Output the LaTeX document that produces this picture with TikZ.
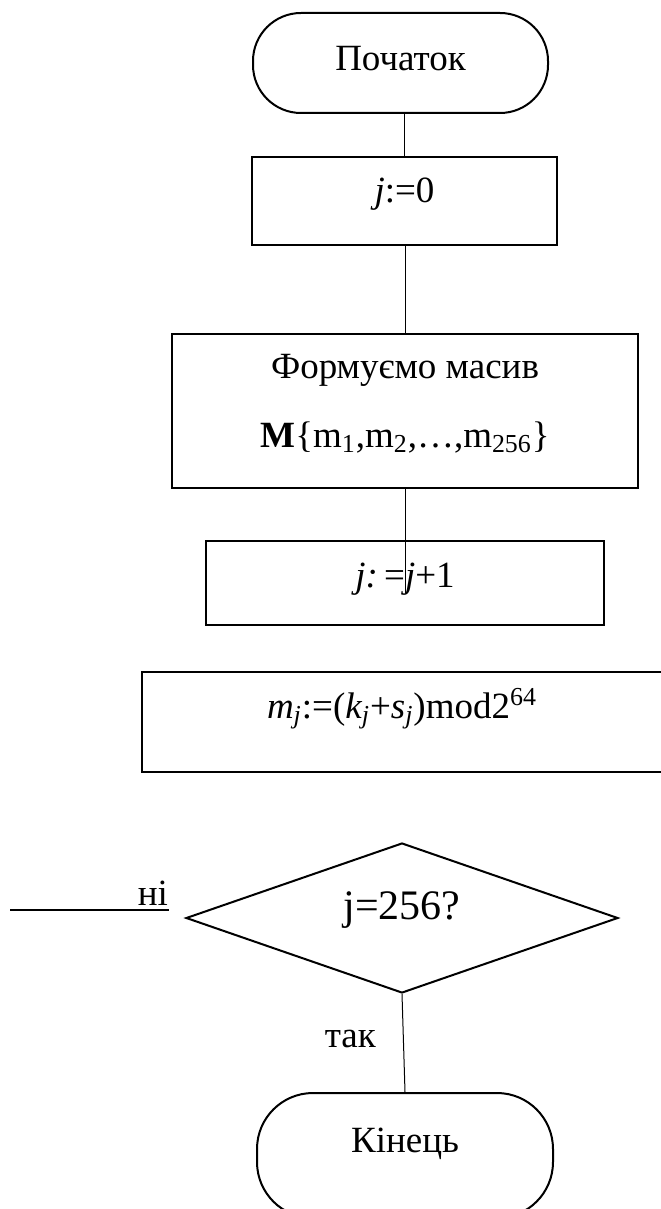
\documentclass[tikz,border=0pt]{standalone}
\usepackage{fontspec}
\setmainfont{Liberation Serif}
\usetikzlibrary{shapes.geometric}
\begin{document}
\begin{tikzpicture}[x=0.5pt,y=-0.5pt,
  every node/.style={font=\fontsize{18.5pt}{34.5pt}\selectfont},
  shape line/.style={draw, line width=1pt, inner sep=0pt},
  terminal/.style={shape line, rectangle, rounded corners=#1},
  procbox/.style={shape line, rectangle},
  decision/.style={shape line, diamond, font=\fontsize{21pt}{25pt}\selectfont},
  link/.style={line width=0.5pt},
  exit line/.style={line width=1.1pt},
  base drop/.style={text height=#1, text depth=0pt},
  base lift/.style={text height=0pt, text depth=#1},
  caption/.style={inner sep=0pt}]
\useasboundingbox (0,0) rectangle (660,1209);

% blocks of the algorithm
\node[terminal=24pt, minimum width=147.5pt, minimum height=50pt, base drop=8pt]
  (start) at (400.5,63) {Початок};
\node[procbox, minimum width=152.5pt, minimum height=44pt, base drop=2pt]
  (j0) at (404.5,201) {\textit{j}:=0};
\node[procbox, minimum width=233pt, minimum height=77pt, align=center, base drop=36pt]
  (form) at (405,411) {Формуємо масив\\\textbf{M}\{m\textsubscript{1},m\textsubscript{2},…,m\textsubscript{256}\}};
\node[procbox, minimum width=199pt, minimum height=42pt, base drop=4pt]
  (jj) at (405,583) {\textit{j:}\,=\textit{j}+1};
\node[procbox, minimum width=260pt, minimum height=50pt, base lift=4pt]
  (mj) at (402,722) {\textit{m\textsubscript{j}}:=(\textit{k\textsubscript{j}}+\textit{s\textsubscript{j}})mod2\textsuperscript{64}};
\node[decision, minimum width=216pt, minimum height=75pt, base drop=1pt]
  (dec) at (402,918) {j=256?};
\node[terminal=28pt, minimum width=148pt, minimum height=62.5pt, base lift=3.5pt]
  (end) at (405,1155.5) {Кінець};

% connectors
\draw[link] (j0.north |- start.south) -- (j0.north);
\draw[link] (form.north |- j0.south) -- (form.north);
\coordinate (jjin) at ([yshift=-5pt]jj.center);
\draw[link] (form.south) -- (jjin);

\coordinate (nofar) at (10,910);
\coordinate (nonear) at ([xshift=-8pt,yshift=4pt]dec.west);
\draw[exit line] (nofar) -- (nonear)
  node[caption, anchor=base east, yshift=2.5pt] (no) {ні};

\draw[link] (dec.south) -- (end.north)
  node[caption, pos=0.455, anchor=east, xshift=-13.5pt] (yes) {так};
\end{tikzpicture}
\end{document}
